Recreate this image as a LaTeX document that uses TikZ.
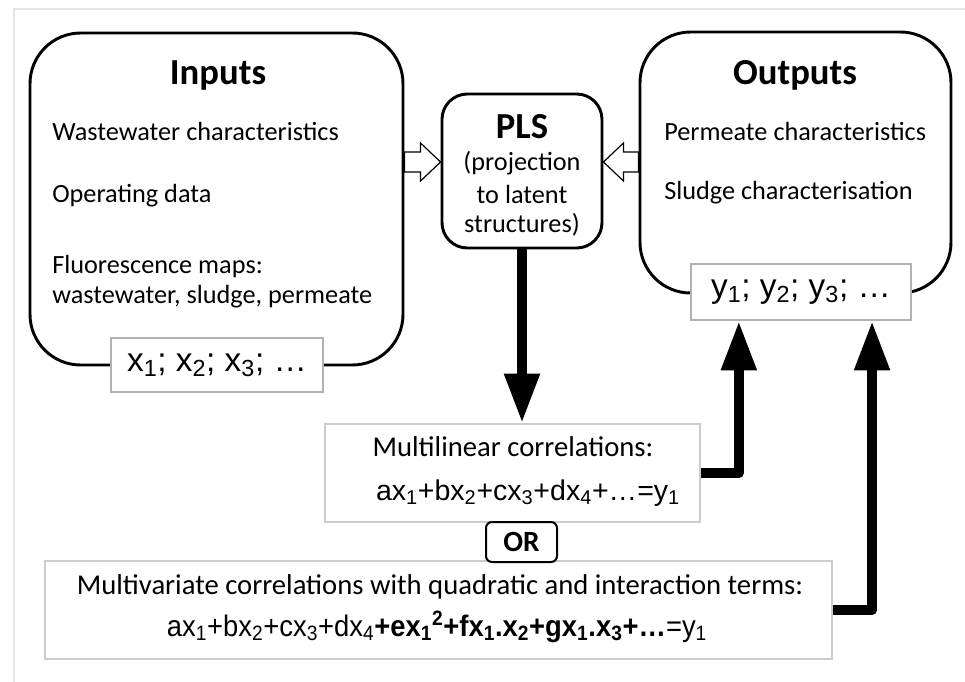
\documentclass[tikz,border=0pt]{standalone}
\usepackage{fontspec}
\setmainfont{Carlito}
\newfontfamily\arialf{Liberation Sans}
\usetikzlibrary{arrows.meta,calc,fit}
\newcommand\sbs[1]{\textsubscript{#1}}
\begin{document}
\begin{tikzpicture}[x=0.75pt,y=-0.75pt,
  bigbox/.style={draw, line width=2.2pt, rounded corners=38pt, inner sep=0pt},
  plsbox/.style={draw, line width=2.2pt, rounded corners=19pt, inner sep=0pt},
  smallbox/.style={draw=gray!60, line width=1.5pt, fill=white, inner sep=0pt},
  corrbox/.style={draw=gray!40, line width=1.5pt, fill=white, inner sep=0pt},
  orbox/.style={draw, line width=1.5pt, rounded corners=4.5pt, fill=white, inner sep=0pt},
  fatarrow/.style={line width=7.5pt, line join=round, -{Triangle[length=37pt,width=25pt]}},
  hollow/.style={draw, fill=white, line width=0.9pt, line join=miter},
  body/.style={font=\fontsize{21.5}{26}\selectfont, inner sep=0pt},
  boxtext/.style={font=\fontsize{19.7}{24}\selectfont, inner sep=0pt},
  title/.style={font=\fontsize{27.5}{32}\selectfont\bfseries, inner sep=0pt},
  formula/.style={font=\arialf\fontsize{21.4}{26}\selectfont, inner sep=0pt},
  vars/.style={font=\arialf\fontsize{25}{30}\selectfont, inner sep=0pt}
]
\useasboundingbox (0,0) rectangle (965,682);
\draw[gray!20, line width=1.5pt] (14,682) -- (14,9) -- (965,9);

% main boxes
\node[bigbox, fit={(30,33) (403,365)}] (inputs) {};
\node[bigbox, fit={(640,32) (951,293)}] (outputs) {};
\node[plsbox, fit={(442,94) (602,248)}] (pls) {};
\node[smallbox, fit={(111,338) (323,392)}] (xbox) {};
\node[smallbox, fit={(691,264) (911,320)}] (ybox) {};
\node[corrbox, fit={(325,424) (700,522)}] (multilin) {};
\node[corrbox, fit={(45,561) (832,659)}] (multivar) {};
\node[orbox, fit={(486,522) (557,562)}] (or) {};

% texts
\node[title] (tin) at (218,75) {Inputs};
\node[boxtext, anchor=west] (t1) at (52,131) {Wastewater characteristics};
\node[boxtext, anchor=west] (t2) at (52,196) {Operating data};
\node[boxtext, anchor=west] (t3) at (52,266) {Fluorescence maps:};
\node[boxtext, anchor=west] (t4) at (52,297) {wastewater, sludge, permeate};
\node[vars] (xt) at (xbox.center) {x\sbs{1}; x\sbs{2}; x\sbs{3}; \ldots};

\node[title] (tpls) at (522,127) {PLS};
\node[boxtext] (p1) at (522,163) {(projection};
\node[boxtext] (p2) at (522,194) {to latent};
\node[boxtext] (p3) at (522,225) {structures)};

\node[title] (tout) at (795,75) {Outputs};
\node[boxtext, anchor=west] (o1) at (664,131) {Permeate characteristics};
\node[boxtext, anchor=west] (o2) at (664,193) {Sludge characterisation};
\node[vars] (yt) at (ybox.center) {y\sbs{1}; y\sbs{2}; y\sbs{3}; \ldots};

\node[body] (m1) at (513,447) {Multilinear correlations:};
\node[formula] (m2) at (528,493) {ax\sbs{1}+bx\sbs{2}+cx\sbs{3}+dx\sbs{4}+\ldots=y\sbs{1}};

\node[font=\fontsize{22}{26}\selectfont\bfseries, inner sep=0pt] (ort) at (or.center) {OR};

\node[body] (v1) at (440,587) {Multivariate correlations with quadratic and interaction terms:};
\node[formula] (v2) at (437,627) {\scalebox{0.96}[1.04]{ax\sbs{1}+bx\sbs{2}+cx\sbs{3}+dx\sbs{4}\textbf{+ex\sbs{1}\textsuperscript{2}+fx\sbs{1}.x\sbs{2}+gx\sbs{1}.x\sbs{3}+\ldots}=y\sbs{1}}};

% hollow arrows
\coordinate (tipL) at ($(pls.west)+(0,-9)$);
\draw[hollow] (tipL) -- ($(tipL)+(-20,-19)$) -- ($(tipL)+(-20,-10)$) -- ($(inputs.east|-tipL)+(0,-10)$)
  -- ($(inputs.east|-tipL)+(0,10)$) -- ($(tipL)+(-20,10)$) -- ($(tipL)+(-20,19)$) -- cycle;
\coordinate (tipR) at ($(pls.east)+(0,-9)$);
\draw[hollow] (tipR) -- ($(tipR)+(20,-19)$) -- ($(tipR)+(20,-10)$) -- ($(outputs.west|-tipR)+(0,-10)$)
  -- ($(outputs.west|-tipR)+(0,10)$) -- ($(tipR)+(20,10)$) -- ($(tipR)+(20,19)$) -- cycle;

% fat arrows
\draw[fatarrow] (pls.south) -- (pls.south |- multilin.north);
\draw[fatarrow] (multilin.east) -| ($(ybox.south west)!0.22!(ybox.south east)$);
\draw[fatarrow] (multivar.east) -| ($(ybox.south west)!0.82!(ybox.south east)$);
\end{tikzpicture}
\end{document}
